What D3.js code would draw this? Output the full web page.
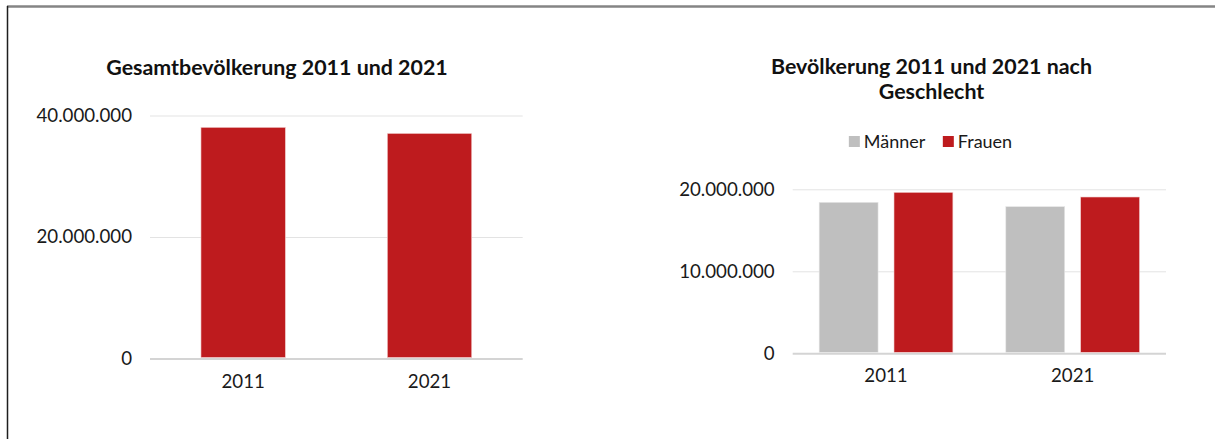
<!DOCTYPE html>
<html>
<head>
<meta charset="utf-8">
<script src="https://cdn.jsdelivr.net/npm/d3@7"></script>
<style>
  body { margin: 0; background: #fff; }
  svg, svg text { font-family: Lato, 'Open Sans', sans-serif; }
</style>
</head>
<body>
<svg id="canvas"></svg>
<script>
// data
let years = ['2011', '2021'];
let totals = [38050000, 37050000];
let genders = ['Männer', 'Frauen'];
let maenner = [18410000, 17880000];
let frauen = [19630000, 19060000];
let leftTicks = [0, 20000000, 40000000];
let rightTicks = [0, 10000000, 20000000];

let width = 1215;
let height = 439;

let red = '#be1b1e';
let grey = '#bfbfbf';

let de = d3.formatLocale({ decimal: ',', thousands: '.', grouping: [3], currency: ['', ' €'] });
let fmt = de.format(',d');

let svg = d3.select('#canvas')
	.attr('width', width)
	.attr('height', height)

// frame (top + left only)
svg.append('line')
	.attr('x1', 7).attr('x2', width).attr('y1', 6.5).attr('y2', 6.5)
	.attr('stroke', '#858585').attr('stroke-width', 2.5)
svg.append('line')
	.attr('x1', 7.5).attr('x2', 7.5).attr('y1', 6).attr('y2', height)
	.attr('stroke', '#1e1e1e').attr('stroke-width', 1.5)

let drawGrid = (g, yScale, ticks, x0, x1) => {
	let yAxis = d3.axisLeft(yScale)
		.tickValues(ticks)
		.tickFormat(fmt)
		.tickSize(-(x1 - x0))
		.tickPadding(18)

	g.append('g')
		.attr('transform', `translate(${x0}, 0)`)
		.call(yAxis)
		.attr('font-family', null)
		.call(a => a.select('.domain').remove())
		.call(a => a.selectAll('.tick line')
			.attr('stroke', (d) => d === 0 ? '#d4d4d4' : '#e3e3e3')
			.attr('stroke-width', (d) => d === 0 ? 2 : 1))
		.call(a => a.selectAll('.tick text')
			.attr('fill', '#1a1a1a')
			.style('font-size', '18.7px'))
}

let drawXAxis = (g, xScale, y0, off) => {
	let xAxis = d3.axisBottom(xScale).tickSize(0).tickPadding(off)
	g.append('g')
		.attr('transform', `translate(0, ${y0})`)
		.call(xAxis)
		.attr('font-family', null)
		.call(a => a.select('.domain').remove())
		.call(a => a.selectAll('.tick text')
			.attr('fill', '#1a1a1a')
			.style('font-size', '18.7px'))
}

// ---- left chart
let left = svg.append('g')

left.append('text')
	.text('Gesamtbevölkerung 2011 und 2021')
	.attr('x', 277)
	.attr('y', 75)
	.attr('text-anchor', 'middle')
	.attr('font-weight', 'bold')
	.style('font-size', '21.4px')
	.attr('fill', '#111')

let xL = d3.scaleBand()
	.domain(years)
	.range([150, 522.7])
	.paddingInner(0.547)
	.paddingOuter(0.2735)

let yL = d3.scaleLinear()
	.domain([0, 40000000])
	.range([358.5, 115.5])

drawGrid(left, yL, leftTicks, 150, 522.7)

left.selectAll('rect.bar')
	.data(years)
	.enter()
	.append('rect')
	.attr('class', 'bar')
	.attr('x', (d) => xL(d))
	.attr('width', xL.bandwidth())
	.attr('y', (d, i) => yL(totals[i]))
	.attr('height', (d, i) => yL(0) - yL(totals[i]) - 1)
	.attr('fill', red)
	.attr('stroke', '#f2d0d0')
	.attr('stroke-width', 0.6)

drawXAxis(left, xL, 358.5, 16.5)

// ---- right chart
let right = svg.append('g')

right.append('text')
	.attr('x', 931.5)
	.attr('y', 74)
	.attr('text-anchor', 'middle')
	.attr('font-weight', 'bold')
	.style('font-size', '21.4px')
	.attr('fill', '#111')
	.selectAll('tspan')
	.data(['Bevölkerung 2011 und 2021 nach', 'Geschlecht'])
	.enter()
	.append('tspan')
	.attr('x', 931.5)
	.attr('dy', (d, i) => i === 0 ? 0 : 24.5)
	.text((d) => d)

let x0 = d3.scaleBand()
	.domain(years)
	.range([792.7, 1166])
	.paddingInner(0.2835)
	.paddingOuter(0.14175)

let x1 = d3.scaleBand()
	.domain(genders)
	.range([0, x0.bandwidth()])
	.paddingInner(0.213)

let yR = d3.scaleLinear()
	.domain([0, 20000000])
	.range([353.3, 189.3])

let colour = d3.scaleOrdinal().domain(genders).range([grey, red])

drawGrid(right, yR, rightTicks, 792.7, 1166)

let rows = years.map((y, i) => ({ year: y, values: [maenner[i], frauen[i]] }))

right.selectAll('g.grp')
	.data(rows)
	.enter()
	.append('g')
	.attr('class', 'grp')
	.attr('transform', (d) => `translate(${x0(d.year)}, 0)`)
	.selectAll('rect')
	.data((d) => d.values.map((v, j) => ({ key: genders[j], value: v })))
	.enter()
	.append('rect')
	.attr('x', (d) => x1(d.key))
	.attr('width', x1.bandwidth())
	.attr('y', (d) => yR(d.value))
	.attr('height', (d) => yR(0) - yR(d.value) - 1)
	.attr('fill', (d) => colour(d.key))
	.attr('stroke', (d) => d.key === 'Frauen' ? '#f2d0d0' : '#e6e6e6')
	.attr('stroke-width', 0.6)

drawXAxis(right, x0, 353.3, 15.5)

// legend
let legend = right.append('g').attr('id', 'legend')
let items = legend.selectAll('g')
	.data(genders)
	.enter()
	.append('g')

items.append('rect')
	.attr('width', 11)
	.attr('height', 11)
	.attr('y', 136)
	.attr('fill', (d) => colour(d))

items.append('text')
	.text((d) => d)
	.attr('x', 15)
	.attr('y', 147.5)
	.attr('fill', '#1a1a1a')
	.style('font-size', '18px')

let cx = 0
let offsets = []
items.each(function () {
	offsets.push(cx)
	cx += this.getBBox().width + 17
})
let total = cx - 17
let start = 930.5 - total / 2
items.attr('transform', (d, i) => `translate(${start + offsets[i]}, 0)`)
</script>
</body>
</html>
